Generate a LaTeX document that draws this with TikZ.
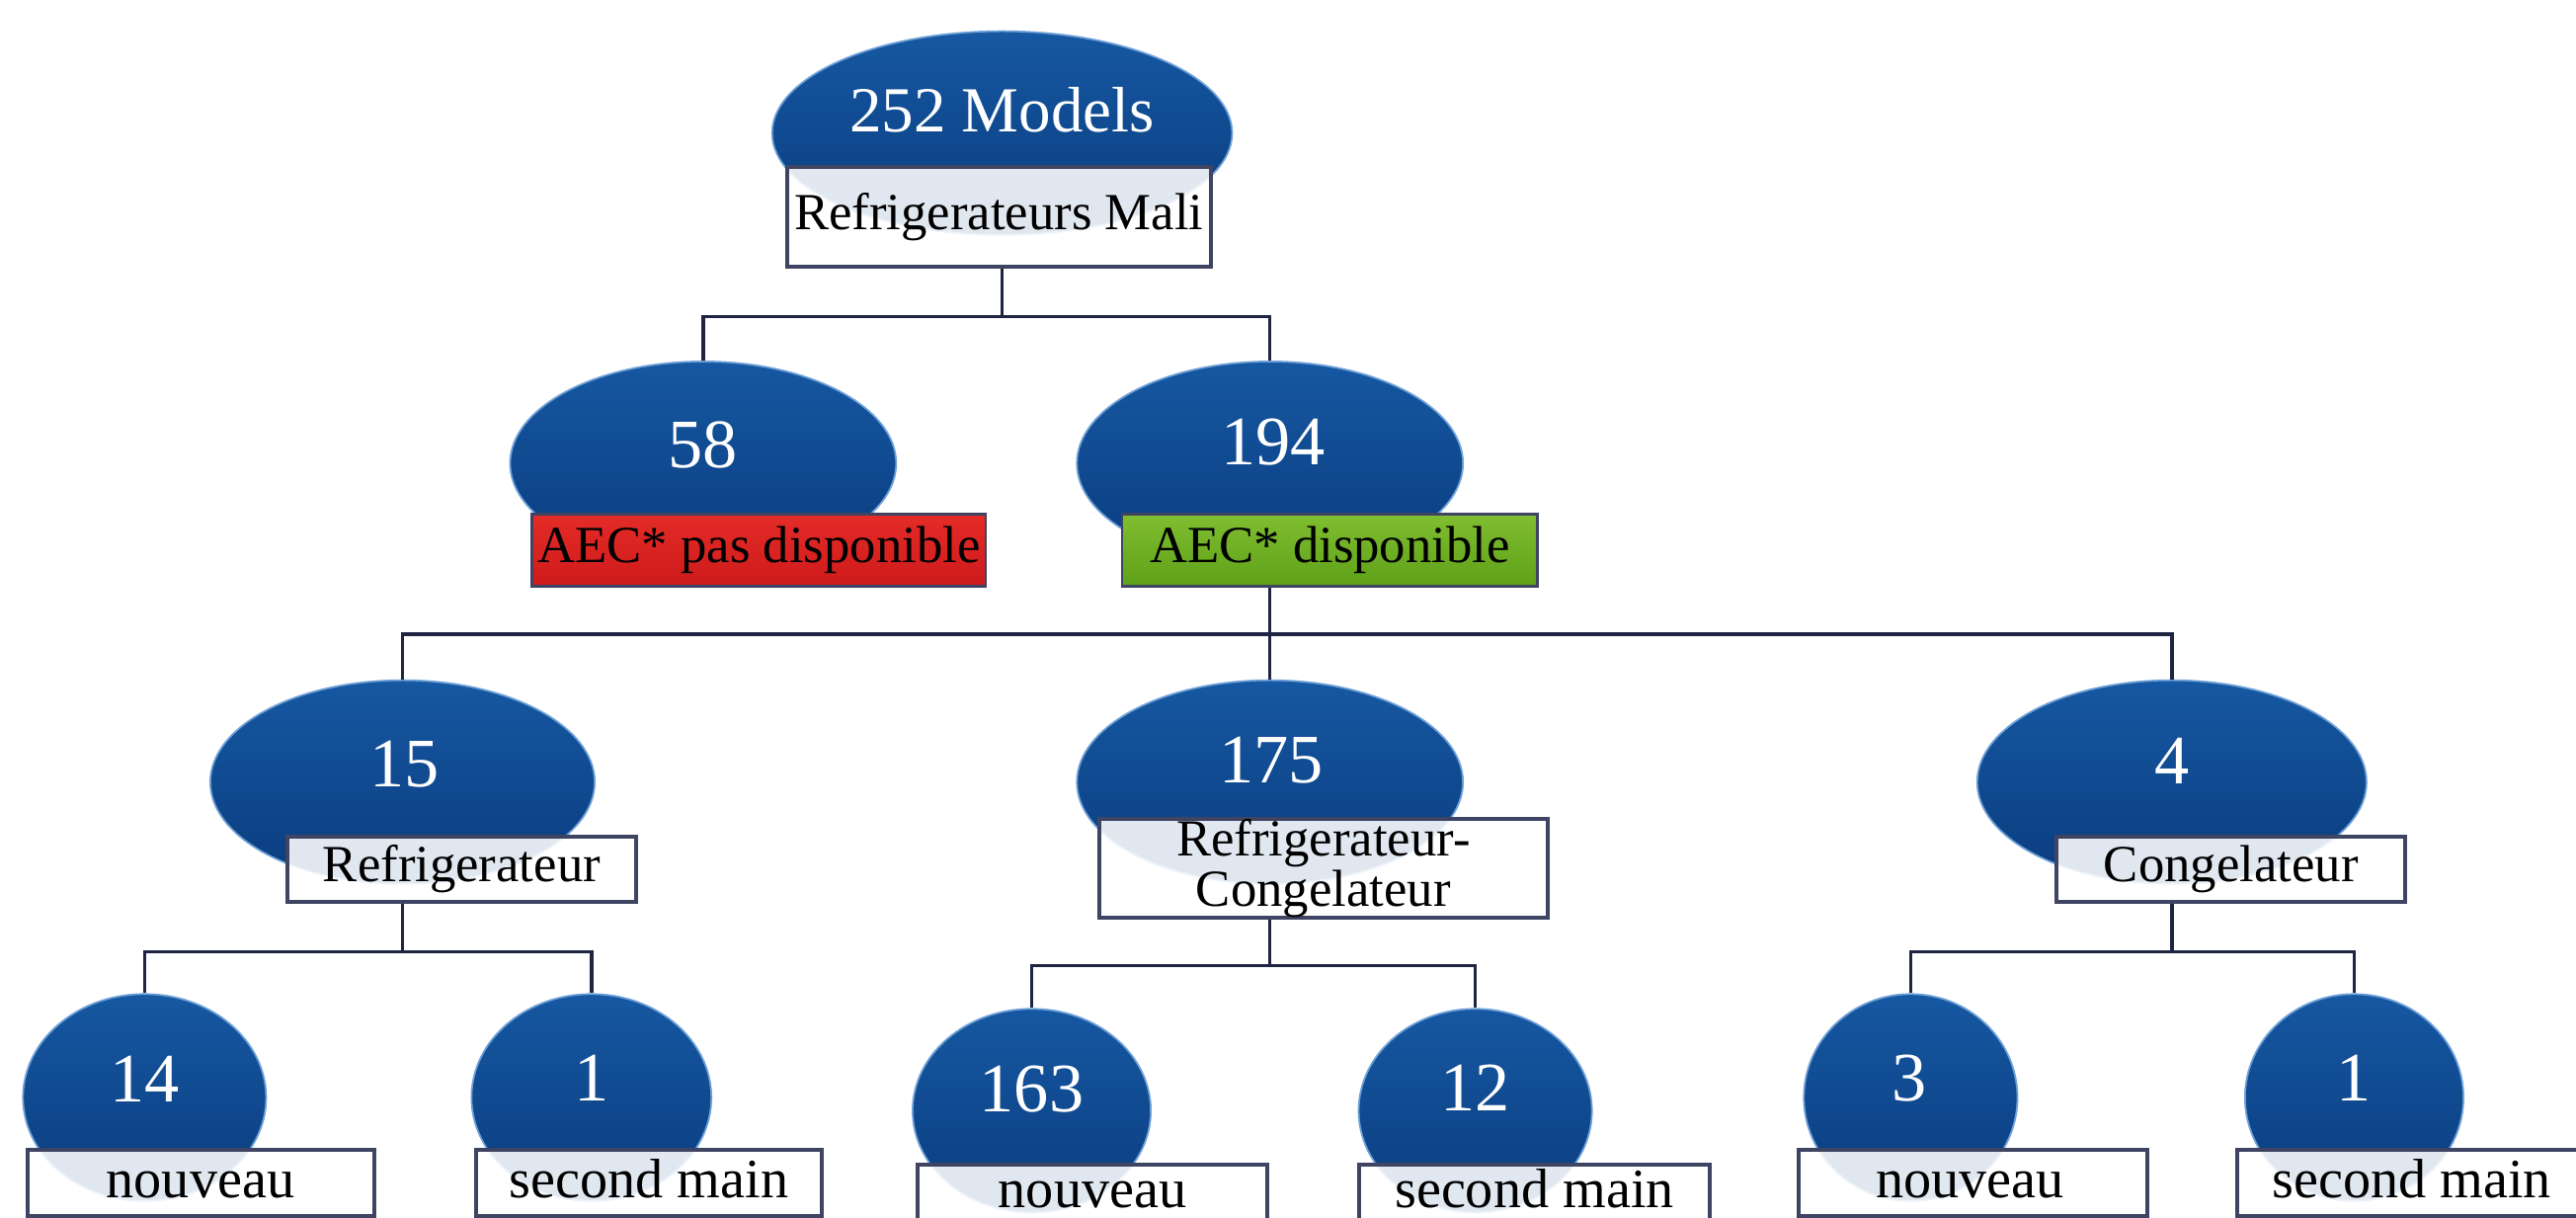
\documentclass[tikz,border=0pt]{standalone}
\usepackage{fontspec}
\setmainfont{Liberation Serif}
\usetikzlibrary{shapes.geometric}
\definecolor{ellTop}{RGB}{22,88,162}
\definecolor{ellBot}{RGB}{10,60,126}
\definecolor{ellEdge}{RGB}{110,160,215}
\definecolor{boxEdge}{RGB}{62,68,98}
\definecolor{connCol}{RGB}{30,36,66}
\definecolor{redTop}{RGB}{228,44,40}
\definecolor{redBot}{RGB}{205,26,26}
\definecolor{grnTop}{RGB}{128,190,48}
\definecolor{grnBot}{RGB}{94,160,24}
\newcommand\numfnt{\fontsize{20}{22}\selectfont}
\newcommand\topfnt{\fontsize{18.5}{21}\selectfont}
\newcommand\lblfnt{\fontsize{15}{13.5}\selectfont}
\newcommand\botfnt{\fontsize{16}{18}\selectfont}
\begin{document}
\begin{tikzpicture}[x=0.016633cm,y=-0.016633cm,
  sz/.style 2 args={minimum width=#1*0.016633cm, minimum height=#2*0.016633cm},
  ell/.style={ellipse, inner sep=0pt, top color=ellTop, bottom color=ellBot, draw=ellEdge, line width=0.5pt},
  wbox/.style={rectangle, inner sep=0pt, fill=white, fill opacity=0.88, text opacity=1, draw=boxEdge, draw opacity=1, line width=1.1pt, font=\lblfnt, align=center, text=black},
  redbox/.style={rectangle, inner sep=0pt, top color=redTop, bottom color=redBot, draw=boxEdge, line width=0.8pt, font=\lblfnt, text=black},
  grnbox/.style={rectangle, inner sep=0pt, top color=grnTop, bottom color=grnBot, draw=boxEdge, line width=0.8pt, font=\lblfnt, text=black},
  numtxt/.style={inner sep=0pt, text=white, font=\numfnt},
  bottxt/.style={inner sep=0pt, anchor=base, text=black, font=\botfnt},
  conn/.style={draw=connCol, line width=1pt}]
\useasboundingbox (0,0) rectangle (1568,741);
\clip (0,0) rectangle (1568,741);
\fill[white] (0,0) rectangle (1568,741);

% ellipses
\node[ell, sz={280}{124}] (e0) at (610,81) {};
\node[ell, sz={235}{124}] (e1) at (428,282) {};
\node[ell, sz={235}{124}] (e2) at (773,282) {};
\node[ell, sz={234}{124}] (e3) at (245,476) {};
\node[ell, sz={235}{124}] (e4) at (773,476) {};
\node[ell, sz={237}{124}] (e5) at (1322,476) {};
\node[ell, sz={148}{126}] (e6) at (88,668) {};
\node[ell, sz={146}{126}] (e7) at (360,668) {};
\node[ell, sz={145}{124}] (e8) at (628,676) {};
\node[ell, sz={142}{124}] (e9) at (898,676) {};
\node[ell, sz={130}{126}] (e10) at (1163,668) {};
\node[ell, sz={133}{126}] (e11) at (1433,668) {};

% boxes
\node[wbox, sz={258}{61}] (b0) at (608,132) {Refrigerateurs Mali};
\node[redbox, sz={276}{44}] (b1) at (462,335) {AEC* pas disponible};
\node[grnbox, sz={253}{44}] (b2) at (809.5,335) {AEC* disponible};
\node[wbox, sz={212}{40}] (b3) at (281,529) {Refrigerateur};
\node[wbox, sz={273}{57}] (b4) at (805.5,528.5) {Refrigerateur-\\Congelateur};
\node[wbox, sz={212}{40}] (b5) at (1358,529) {Congelateur};
\node[wbox, sz={211}{40}] (b6) at (122.5,720) {};
\node[wbox, sz={210}{40}] (b7) at (395,720) {};
\node[wbox, sz={213}{40}] (b8) at (665,729) {};
\node[wbox, sz={213}{40}] (b9) at (934,729) {};
\node[wbox, sz={212}{40}] (b10) at (1201,720) {};
\node[wbox, sz={218}{40}] (b11) at (1471,720) {};

% bottom labels
\node[bottxt] (l6) at (122,729) {nouveau};
\node[bottxt] (l7) at (395,729) {second main};
\node[bottxt] (l8) at (665,735) {nouveau};
\node[bottxt] (l9) at (934,735) {second main};
\node[bottxt] (l10) at (1199,729) {nouveau};
\node[bottxt] (l11) at (1468,729) {second main};

% numbers
\node[numtxt, font=\topfnt] (t0) at (610,67) {252 Models};
\node[numtxt] (t1) at (428,271) {58};
\node[numtxt] (t2) at (775,269) {194};
\node[numtxt] (t3) at (246,465) {15};
\node[numtxt] (t4) at (774,463) {175};
\node[numtxt] (t5) at (1322,463) {4};
\node[numtxt] (t6) at (88,657) {14};
\node[numtxt] (t7) at (360,656) {1};
\node[numtxt] (t8) at (628,663) {163};
\node[numtxt] (t9) at (898,662) {12};
\node[numtxt] (t10) at (1162,656) {3};
\node[numtxt] (t11) at (1433,656) {1};

% connectors
\draw[conn] (e0 |- b0.south) -- ++(0,29) -| (e1.north);
\draw[conn] (e0 |- b0.south) -- ++(0,29) -| (e2.north);
\draw[conn] (e2 |- b2.south) -- ++(0,28) -| (e3.north);
\draw[conn] (e2 |- b2.south) -- ++(0,28) -| (e4.north);
\draw[conn] (e2 |- b2.south) -- ++(0,28) -| (e5.north);
\draw[conn] (e3 |- b3.south) -- ++(0,29) -| (e6.north);
\draw[conn] (e3 |- b3.south) -- ++(0,29) -| (e7.north);
\draw[conn] (e4 |- b4.south) -- ++(0,28) -| (e8.north);
\draw[conn] (e4 |- b4.south) -- ++(0,28) -| (e9.north);
\draw[conn] (e5 |- b5.south) -- ++(0,29) -| (e10.north);
\draw[conn] (e5 |- b5.south) -- ++(0,29) -| (e11.north);
\end{tikzpicture}
\end{document}
